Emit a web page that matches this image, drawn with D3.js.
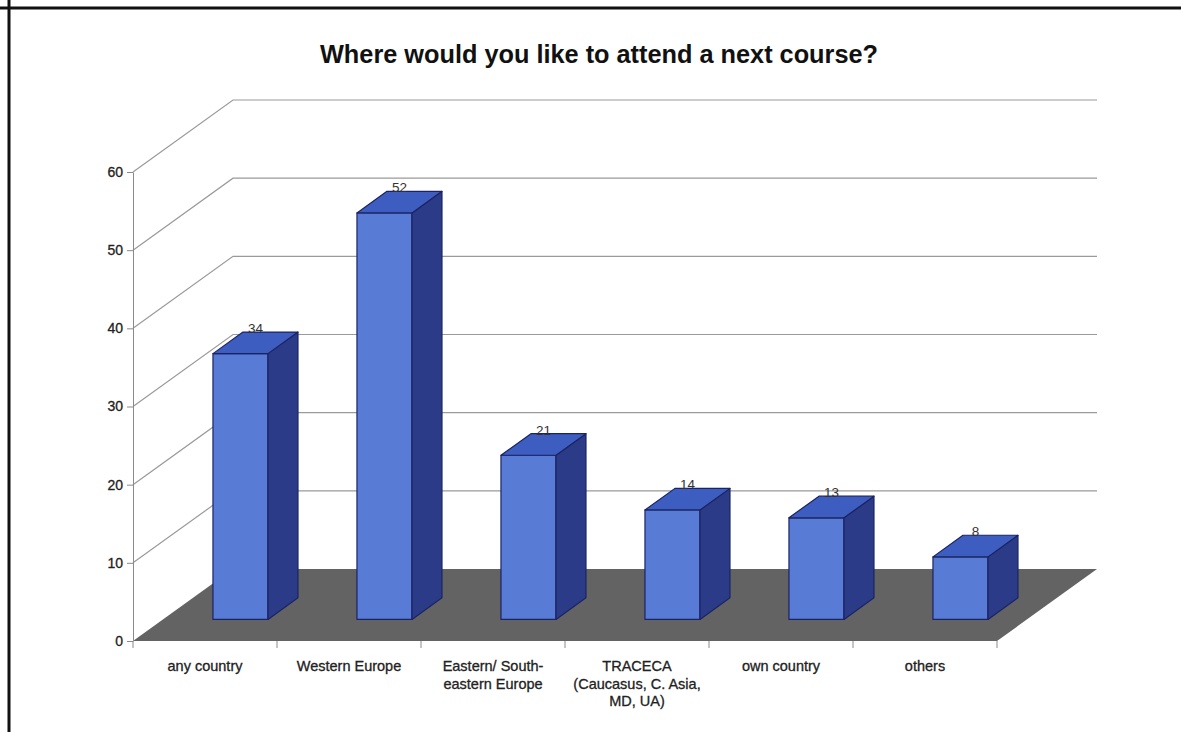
<!DOCTYPE html>
<html>
<head>
<meta charset="utf-8">
<script src="https://cdn.jsdelivr.net/npm/d3@7"></script>
<style>
  html, body { margin: 0; padding: 0; background: #fff; }
  svg { display: block; font-family: "Liberation Sans", Arial, sans-serif; }
</style>
</head>
<body>
<svg id="chart" width="1181" height="732"></svg>
<script>
// Survey answers: preferred place for the next course
const categories = ["any country", "Western Europe", "Eastern/ South-eastern Europe",
  "TRACECA (Caucasus, C. Asia, MD, UA)", "own country", "others"];
const categoryLines = [
  ["any country"],
  ["Western Europe"],
  ["Eastern/ South-", "eastern Europe"],
  ["TRACECA", "(Caucasus, C. Asia,", "MD, UA)"],
  ["own country"],
  ["others"]
];
const values = [34, 52, 21, 14, 13, 8];
const yTicks = [0, 10, 20, 30, 40, 50, 60];
const title = "Where would you like to attend a next course?";

const svg = d3.select("#chart");

// front plane of the 3-D box
const plot = { left: 133, right: 997, bottom: 641, top: 172 };
// depth vector of the whole box (front edge -> back wall)
const depth = { dx: 100, dy: -72 };
// bars sit between these fractions of the depth
const barFront = 0.3, barBack = 0.6;

const x = d3.scaleBand().domain(categories).range([plot.left, plot.right]).padding(0);
const y = d3.scaleLinear().domain([0, 60]).range([plot.bottom, plot.top]);

// frame
svg.append("line").attr("x1", 9).attr("y1", 0).attr("x2", 9).attr("y2", 732)
  .attr("stroke", "#111").attr("stroke-width", 3);
svg.append("line").attr("x1", 0).attr("y1", 8).attr("x2", 1181).attr("y2", 8)
  .attr("stroke", "#111").attr("stroke-width", 3);

// title
svg.append("text")
  .attr("x", 599).attr("y", 63)
  .attr("text-anchor", "middle")
  .attr("font-size", 25.3).attr("font-weight", "bold").attr("fill", "#111")
  .text(title);

// gridlines: side wall diagonal + back wall horizontal
const grid = svg.append("g").attr("fill", "none").attr("stroke", "#9a9a9a").attr("stroke-width", 1.2);
yTicks.filter(t => t > 0).forEach(t => {
  const yy = y(t);
  grid.append("path").attr("d", d3.line()([
    [plot.left, yy],
    [plot.left + depth.dx, yy + depth.dy],
    [plot.right + depth.dx, yy + depth.dy]
  ]));
});

// floor
svg.append("path")
  .attr("d", d3.line()([
    [plot.left, plot.bottom],
    [plot.right, plot.bottom],
    [plot.right + depth.dx, plot.bottom + depth.dy],
    [plot.left + depth.dx, plot.bottom + depth.dy]
  ]) + "Z")
  .attr("fill", "#636363");

// y axis
const yAxis = svg.append("g")
  .attr("transform", `translate(${plot.left},0)`)
  .call(d3.axisLeft(y).tickValues(yTicks).tickSize(6).tickSizeOuter(0).tickPadding(4));
yAxis.select(".domain").attr("stroke", "#8a8a8a");
yAxis.selectAll(".tick line").attr("stroke", "#8a8a8a");
yAxis.selectAll(".tick text").attr("font-size", 14).attr("fill", "#222")
  .attr("stroke", "#222").attr("stroke-width", 0.3)
  .attr("font-family", "'Liberation Sans', Arial, sans-serif");

// x axis: band boundaries as ticks, labels centred in each band
const xAxis = svg.append("g");
const bounds = categories.map(c => x(c)).concat([plot.right]);
xAxis.selectAll("line.tick").data(bounds).join("line")
  .attr("x1", d => d).attr("x2", d => d)
  .attr("y1", plot.bottom).attr("y2", plot.bottom + 7)
  .attr("stroke", "#8a8a8a");
xAxis.selectAll("text").data(categoryLines).join("text")
  .attr("text-anchor", "middle")
  .attr("font-size", 14.5).attr("fill", "#222")
  .attr("stroke", "#222").attr("stroke-width", 0.3)
  .each(function (lines, i) {
    const cx = x(categories[i]) + x.bandwidth() / 2;
    d3.select(this).selectAll("tspan").data(lines).join("tspan")
      .attr("x", cx).attr("y", (d, j) => 671 + j * 17.5)
      .text(d => d);
  });

// 3-D bars
const bw = x.bandwidth();
const barOffset = bw * 0.347, barWidth = bw * 0.382;
const fdx = depth.dx * barFront, fdy = depth.dy * barFront;
const bdx = depth.dx * (barBack - barFront), bdy = depth.dy * (barBack - barFront);

const bars = svg.append("g").attr("stroke", "#1b2463").attr("stroke-width", 1.2)
  .attr("stroke-linejoin", "round");
categories.forEach((c, i) => {
  const v = values[i];
  const xl = x(c) + barOffset + fdx;
  const xr = xl + barWidth;
  const yb = y(0) + fdy;
  const yt = y(v) + fdy;
  // front face
  bars.append("path").attr("fill", "#587cd6")
    .attr("d", d3.line()([[xl, yb], [xr, yb], [xr, yt], [xl, yt]]) + "Z");
  // side face
  bars.append("path").attr("fill", "#2b3b88")
    .attr("d", d3.line()([[xr, yb], [xr + bdx, yb + bdy], [xr + bdx, yt + bdy], [xr, yt]]) + "Z");
  // top face
  bars.append("path").attr("fill", "#3d5ec0")
    .attr("d", d3.line()([[xl, yt], [xr, yt], [xr + bdx, yt + bdy], [xl + bdx, yt + bdy]]) + "Z");
  // value label
  svg.append("text")
    .attr("x", xl + barWidth / 2 + bdx / 2)
    .attr("y", yt + bdy + 1)
    .attr("text-anchor", "middle")
    .attr("font-size", 13.5).attr("fill", "#333")
    .text(v);
});
</script>
</body>
</html>
